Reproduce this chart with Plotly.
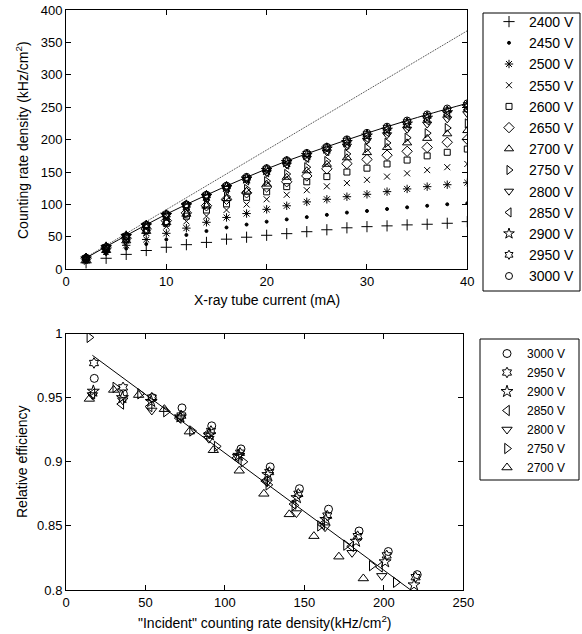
import plotly.graph_objects as go

# ---------------- data: counting rate vs. X-ray tube current ----------------
current_mA = [2, 4, 6, 8, 10, 12, 14, 16, 18, 20, 22, 24, 26, 28, 30, 32, 34, 36, 38, 40]

rate_2400 = [10, 17, 23, 29, 34, 38, 41.5, 46.5, 49.5, 52.5, 55, 58, 61, 64, 65.8, 67, 68.5, 69.5, 71, 73.5]
rate_2450 = [13, 24, 32, 39, 46, 53, 59, 64.5, 69, 73.5, 77, 80.5, 84, 87.5, 90, 93, 95.6, 98, 100.3, 102]
rate_2500 = [15, 27, 37, 46, 55.5, 63.5, 72.5, 80, 86, 92.5, 98, 104, 108, 112, 115.7, 119.8, 124, 127.5, 130.5, 133.6]
rate_2550 = [16.5, 31, 45, 56, 66, 74, 82, 91.5, 100, 108, 115, 122, 128, 133, 138, 143, 148, 153, 157.5, 162.5]
rate_2600 = [17, 32, 47, 60, 71, 82, 91.5, 101, 111, 119.5, 127.5, 135, 143, 150, 156, 162.5, 168.5, 175, 180.5, 185.5]
rate_2650 = [17, 33, 48, 62, 75, 87, 98, 108, 118, 127, 135, 144, 155, 163, 169.5, 176, 182, 188, 196, 200.5]
rate_2700 = [14, 29, 44, 58.5, 72, 85, 97.5, 109, 120.5, 131.5, 142, 152, 162, 172, 180, 188, 195, 202, 209, 214]
rate_2750 = [14.7, 29.7, 44.4, 59, 73, 86.5, 100, 112, 124, 136, 147, 157.5, 167, 178, 187, 195, 203, 210, 218, 225]
rate_2800 = [15.8, 33.8, 50.8, 67.1, 82.5, 97.6, 111.8, 124.7, 138.4, 149.2, 161.1, 171, 181, 190, 199, 207.5, 216, 224, 232, 240]
rate_2850 = [15.8, 32.9, 49.6, 66.3, 82.2, 96.9, 111, 124.2, 137.2, 149.7, 161.6, 172, 182.5, 192.5, 202, 211.5, 220.5, 229.5, 238, 246]
rate_2900 = [16.4, 33.7, 50.8, 67.3, 83.4, 98.5, 113, 126.7, 139.8, 152.9, 165.1, 176.1, 186, 196, 206, 215, 224.5, 233.5, 242, 251]
rate_2950 = [17.2, 34.4, 51.3, 68, 84.3, 99.3, 114.1, 127.9, 141.1, 154.5, 166.9, 178.2, 188, 198.5, 208.5, 218, 227, 236.5, 245, 253.5]
rate_3000 = [17.2, 34.4, 51.6, 68.8, 85.1, 100.2, 115.1, 129.1, 142.6, 156, 168.3, 179.5, 189, 200.5, 210.5, 220, 229.5, 239, 248, 256]

# fitted curve through the 3000 V points and the extrapolated incident rate
fit_current = [2, 6, 10, 14, 18, 22, 26, 30, 34, 38, 40]
fit_rate = [17.5, 52, 85, 114.5, 142, 167, 189, 210, 229.5, 247.5, 256]
incident_current = [2, 40]
incident_rate = [18.4, 368]

# ---------------- data: relative efficiency vs. incident rate ----------------
inc_3000 = [17.8, 36.1, 54.3, 73.0, 91.7, 110.1, 128.5, 146.9, 165.2, 184.4, 202.8, 221.0]
eff_3000 = [0.965, 0.953, 0.950, 0.942, 0.928, 0.910, 0.896, 0.879, 0.863, 0.846, 0.830, 0.812]
inc_2950 = [17.6, 35.9, 54.0, 72.6, 91.2, 109.5, 127.9, 146.2, 164.4, 183.5, 201.8, 220.0]
eff_2950 = [0.977, 0.958, 0.950, 0.936, 0.924, 0.907, 0.892, 0.875, 0.858, 0.842, 0.827, 0.810]
inc_2900 = [17.2, 35.5, 53.6, 72.0, 90.5, 108.8, 127.0, 145.3, 163.5, 182.5, 200.8, 219.0]
eff_2900 = [0.955, 0.950, 0.947, 0.935, 0.921, 0.905, 0.890, 0.872, 0.855, 0.838, 0.822, 0.804]
inc_2850 = [16.6, 34.8, 52.6, 71.0, 89.2, 107.3, 125.4, 143.2, 161.2, 179.5, 197.6]
eff_2850 = [0.953, 0.945, 0.943, 0.934, 0.922, 0.903, 0.885, 0.867, 0.851, 0.834, 0.818]
inc_2800 = [16.6, 35.7, 54.0, 71.8, 89.9, 108.0, 126.5, 145.0, 163.0, 180.0, 198.7]
eff_2800 = [0.952, 0.948, 0.940, 0.934, 0.918, 0.904, 0.884, 0.860, 0.849, 0.829, 0.811]
inc_2750 = [14.7, 31.0, 46.6, 62.9, 79.3, 94.8, 111.6, 127.3, 143.7, 159.8, 176.2, 192.4, 207.5]
eff_2750 = [0.997, 0.958, 0.953, 0.939, 0.924, 0.912, 0.900, 0.882, 0.866, 0.850, 0.835, 0.819, 0.806]
inc_2700 = [14.7, 30.0, 45.7, 61.9, 77.6, 92.7, 109.0, 124.5, 140.5, 156.0, 171.7, 187.1]
eff_2700 = [0.949, 0.956, 0.952, 0.941, 0.9235, 0.909, 0.893, 0.875, 0.859, 0.842, 0.826, 0.809]

eff_fit_x = [16.6, 218]
eff_fit_y = [0.983, 0.799]

# ---------------- marker styles per HV setting ----------------
styles = {
    "2400 V": ("cross-thin-open", 8),
    "2450 V": ("circle", 3),
    "2500 V": ("asterisk-open", 7),
    "2550 V": ("x-thin-open", 6),
    "2600 V": ("square-open", 6),
    "2650 V": ("diamond-open", 8),
    "2700 V": ("triangle-up-open", 8),
    "2750 V": ("triangle-right-open", 8),
    "2800 V": ("triangle-down-open", 8),
    "2850 V": ("triangle-left-open", 8),
    "2900 V": ("star-open", 8),
    "2950 V": ("hexagram-open", 7),
    "3000 V": ("circle-open", 7),
}

top_series = [
    ("2400 V", rate_2400), ("2450 V", rate_2450), ("2500 V", rate_2500),
    ("2550 V", rate_2550), ("2600 V", rate_2600), ("2650 V", rate_2650),
    ("2700 V", rate_2700), ("2750 V", rate_2750), ("2800 V", rate_2800),
    ("2850 V", rate_2850), ("2900 V", rate_2900), ("2950 V", rate_2950),
    ("3000 V", rate_3000),
]
bottom_series = [
    ("3000 V", inc_3000, eff_3000), ("2950 V", inc_2950, eff_2950),
    ("2900 V", inc_2900, eff_2900), ("2850 V", inc_2850, eff_2850),
    ("2800 V", inc_2800, eff_2800), ("2750 V", inc_2750, eff_2750),
    ("2700 V", inc_2700, eff_2700),
]

FONT = "Liberation Sans, Arial, Helvetica, sans-serif"
fig = go.Figure()


def marker_for(label, bump=0):
    sym, size = styles[label]
    return dict(symbol=sym, size=size + bump, color="black",
                line=dict(color="black", width=1))


# lines of the upper panel
fig.add_trace(go.Scatter(x=incident_current, y=incident_rate, mode="lines",
                         line=dict(color="#333333", width=1, dash="1px,1px"),
                         showlegend=False, hoverinfo="skip", xaxis="x", yaxis="y"))
fig.add_trace(go.Scatter(x=fit_current, y=fit_rate, mode="lines",
                         line=dict(color="black", width=1, shape="spline"),
                         showlegend=False, hoverinfo="skip", xaxis="x", yaxis="y"))

for label, vals in top_series:
    fig.add_trace(go.Scatter(x=current_mA, y=vals, mode="markers", name=label,
                             marker=marker_for(label), legend="legend",
                             xaxis="x", yaxis="y"))

# lower panel
fig.add_trace(go.Scatter(x=eff_fit_x, y=eff_fit_y, mode="lines",
                         line=dict(color="black", width=1),
                         showlegend=False, hoverinfo="skip", xaxis="x2", yaxis="y2"))
for label, xs, ys in bottom_series:
    fig.add_trace(go.Scatter(x=xs, y=ys, mode="markers", name=label,
                             marker=marker_for(label, 1), legend="legend2",
                             xaxis="x2", yaxis="y2"))

axis_common = dict(showline=True, linecolor="black", linewidth=1, mirror="ticks",
                   ticks="inside", ticklen=5, tickcolor="black", tickwidth=1,
                   showgrid=False, zeroline=False,
                   tickfont=dict(family=FONT, size=13, color="black"))

W, H = 582, 634
fig.update_layout(
    width=W, height=H, autosize=False,
    margin=dict(l=0, r=0, t=0, b=0, autoexpand=False),
    paper_bgcolor="white", plot_bgcolor="white",
    font=dict(family=FONT, size=13, color="black"),
    xaxis=dict(range=[0, 40], dtick=10, domain=[66 / W, 467.3 / W], anchor="y", **axis_common),
    yaxis=dict(range=[0, 400], dtick=50, domain=[1 - 269.3 / H, 1 - 10 / H], anchor="x", **axis_common),
    xaxis2=dict(range=[0, 250], dtick=50, domain=[66 / W, 463.3 / W], anchor="y2", **axis_common),
    yaxis2=dict(range=[0.8, 1.0], dtick=0.05, domain=[1 - 590 / H, 1 - 333.5 / H], anchor="x2", **axis_common),
    legend=dict(x=489 / W, xanchor="left", y=1 - 6 / H, yanchor="top",
                borderwidth=0, bgcolor="rgba(0,0,0,0)",
                font=dict(family=FONT, size=14, color="black")),
    legend2=dict(x=487 / W, xanchor="left", y=1 - 339 / H, yanchor="top",
                 borderwidth=0, bgcolor="rgba(0,0,0,0)",
                 font=dict(family=FONT, size=12, color="black")),
    showlegend=True,
)

# legend frames
fig.add_shape(type="rect", xref="paper", yref="paper",
              x0=483 / W, x1=580 / W, y0=1 - 291 / H, y1=1 - 13 / H,
              line=dict(color="black", width=1), fillcolor="rgba(0,0,0,0)", layer="below")
fig.add_shape(type="rect", xref="paper", yref="paper",
              x0=480 / W, x1=579 / W, y0=1 - 480 / H, y1=1 - 339 / H,
              line=dict(color="black", width=1), fillcolor="rgba(0,0,0,0)", layer="below")

title_font = dict(family=FONT, size=14, color="black")
fig.add_annotation(text="X-ray tube current (mA)", xref="paper", yref="paper",
                   x=267 / W, y=1 - 300 / H, xanchor="center", yanchor="middle",
                   showarrow=False, font=title_font)
fig.add_annotation(text="Counting rate density (kHz/cm<sup>2</sup>)", xref="paper", yref="paper",
                   x=22 / W, y=1 - 140 / H, xanchor="center", yanchor="middle",
                   textangle=-90, showarrow=False, font=title_font)
fig.add_annotation(text="\"Incident\" counting rate density(kHz/cm<sup>2</sup>)", xref="paper", yref="paper",
                   x=265 / W, y=1 - 622 / H, xanchor="center", yanchor="middle",
                   showarrow=False, font=title_font)
fig.add_annotation(text="Relative efficiency", xref="paper", yref="paper",
                   x=22 / W, y=1 - 462 / H, xanchor="center", yanchor="middle",
                   textangle=-90, showarrow=False, font=title_font)

fig.write_html("out.html")
